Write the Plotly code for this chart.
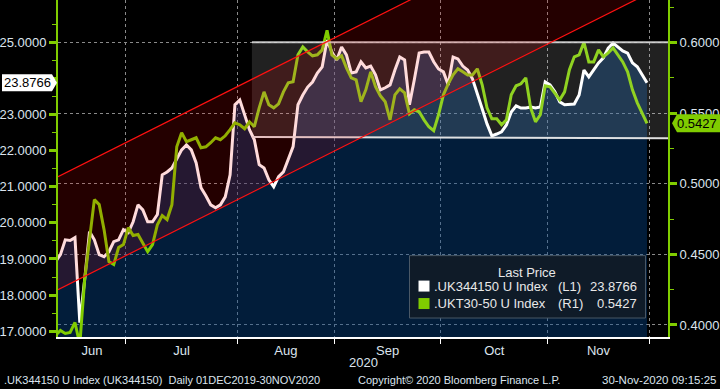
import plotly.graph_objects as go
import pandas as pd

# ---------------- data ----------------
dates = pd.bdate_range("2020-06-10", "2020-11-30", freq="C", holidays=["2020-08-31"])

uk344150 = [
    18.93, 19.12, 19.53, 19.51, 19.59, 17.24, 18.43, 19.76, 19.53, 19.12,
    19.06, 19.20, 19.48, 19.53, 19.81, 19.73, 20.03, 20.50, 20.36, 20.03,
    20.03, 20.23, 21.33, 21.41, 21.52, 21.75, 22.02, 22.16, 22.02, 21.66,
    20.97, 20.75, 20.50, 20.42, 20.50, 20.72, 21.33, 23.27, 23.40, 22.99,
    22.58, 22.30, 21.61, 21.52, 21.19, 21.00, 21.28, 21.41, 21.75, 22.11,
    23.27, 23.54, 23.76, 23.90, 24.15, 24.32, 25.06, 24.73, 24.51, 24.87,
    24.65, 24.15, 24.18, 24.46, 24.29, 24.34, 24.10, 23.68, 23.74, 23.82,
    24.23, 24.59, 24.51, 23.27, 23.96, 24.70, 24.73, 24.73, 24.46, 24.26,
    24.18, 23.82, 24.59, 24.54, 24.34, 24.23, 23.99, 23.60, 23.16, 22.74,
    22.41, 22.46, 22.52, 22.71, 23.07, 23.24, 23.18, 23.18, 23.21, 23.18,
    23.21, 23.90, 23.82, 23.63, 23.35, 23.27, 23.29, 23.29, 23.54, 24.23,
    24.04, 24.23, 24.43, 24.57, 24.84, 24.98, 24.87, 24.76, 24.70, 24.43,
    24.32, 24.10, 23.8766,
]

ukt3050 = [
    0.3926, 0.3961, 0.3940, 0.3947, 0.4018, 0.3862, 0.4322, 0.4604, 0.4887, 0.4852,
    0.4675, 0.4449, 0.4428, 0.4548, 0.4569, 0.4689, 0.4633, 0.4640, 0.4583, 0.4519,
    0.4569, 0.4710, 0.4774, 0.4746, 0.4852, 0.5261, 0.5360, 0.5297, 0.5311, 0.5325,
    0.5254, 0.5261, 0.5290, 0.5325, 0.5311, 0.5339, 0.5382, 0.5431, 0.5417, 0.5389,
    0.5438, 0.5403, 0.5537, 0.5650, 0.5558, 0.5537, 0.5565, 0.5650, 0.5714, 0.5721,
    0.5912, 0.5968, 0.5933, 0.5905, 0.5912, 0.5947, 0.6085, 0.5912, 0.5883, 0.5905,
    0.5820, 0.5749, 0.5735, 0.5580, 0.5664, 0.5792, 0.5686, 0.5622, 0.5580, 0.5452,
    0.5629, 0.5671, 0.5643, 0.5495, 0.5523, 0.5509, 0.5452, 0.5403, 0.5375, 0.5488,
    0.5629, 0.5707, 0.5770, 0.5813, 0.5792, 0.5770, 0.5770, 0.5813, 0.5700, 0.5537,
    0.5459, 0.5459, 0.5417, 0.5452, 0.5629, 0.5693, 0.5707, 0.5749, 0.5537, 0.5438,
    0.5488, 0.5693, 0.5686, 0.5643, 0.5594, 0.5650, 0.5806, 0.5898, 0.5912, 0.6000,
    0.5862, 0.5862, 0.5947, 0.5898, 0.5926, 0.5961, 0.5912, 0.5862, 0.5792, 0.5664,
    0.5572, 0.5495, 0.5427,
]

LAST_L1 = 23.8766
LAST_R1 = 0.5427

month_labels = ["Jun", "Jul", "Aug", "Sep", "Oct", "Nov"]
month_label_pos = ["2020-06-19 12:00", "2020-07-16 00:00", "2020-08-14 12:00",
                   "2020-09-15 12:00", "2020-10-15 12:00", "2020-11-16 00:00"]
month_bounds = ["2020-06-30 12:00", "2020-07-31 12:00", "2020-08-28 12:00",
                "2020-09-30 12:00", "2020-10-30 12:00", "2020-11-30 12:00"]

left_ticks = [17, 18, 19, 20, 21, 22, 23, 24, 25]
left_ticktext = ["17.0000", "18.0000", "19.0000", "20.0000", "21.0000",
                 "22.0000", "23.0000", "", "25.0000"]
left_minor = [16.5, 17.5, 18.5, 19.5, 20.5, 21.5, 22.5, 23.5, 24.5, 25.5]
right_ticks = [0.40, 0.45, 0.50, 0.55, 0.60]
right_ticktext = ["0.4000", "0.4500", "0.5000", "0.5500", "0.6000"]
right_minor = [0.425, 0.475, 0.525, 0.575, 0.625]

X_START, X_END = "2020-06-10 12:00", "2020-12-04 08:00"
# trend channel (left-axis values at the two plot edges)
chan_upper = [21.28, 29.755]
chan_lower = [18.15, 26.625]
# rectangle annotation
rect_x0 = "2020-08-05 12:00"
rect_top = [25.00, 25.00]
rect_bot = [22.38, 22.34]

GREEN = "rgb(128,204,0)"
TXT = "#dce4ee"
FONT = "Liberation Sans"


def pd_(s):
    return s.replace(" ", "_")


fig = go.Figure()
fig.add_trace(go.Scatter(
    x=dates, y=uk344150, mode="lines", yaxis="y",
    line=dict(color="white", width=3),
    fill="tozeroy", fillcolor="rgba(5,72,145,0.40)", hoverinfo="skip"))
fig.add_trace(go.Scatter(
    x=dates, y=ukt3050, mode="lines", yaxis="y2",
    line=dict(color=GREEN, width=3), hoverinfo="skip"))

shapes = []
# rectangle overlay
shapes.append(dict(type="path", xref="x", yref="y", layer="above",
                   path=f"M {pd_(rect_x0)},{rect_top[0]} L {pd_(X_END)},{rect_top[1]} "
                        f"L {pd_(X_END)},{rect_bot[1]} L {pd_(rect_x0)},{rect_bot[0]} Z",
                   fillcolor="rgba(255,255,255,0.13)", line=dict(width=0)))
shapes.append(dict(type="line", xref="x", yref="y", layer="above",
                   x0=rect_x0, x1=X_END, y0=rect_top[0], y1=rect_top[1],
                   line=dict(color="rgba(215,215,215,0.9)", width=2)))
shapes.append(dict(type="line", xref="x", yref="y", layer="above",
                   x0=rect_x0, x1=X_END, y0=rect_bot[0], y1=rect_bot[1],
                   line=dict(color="rgba(235,235,235,0.95)", width=2)))
# channel overlay
shapes.append(dict(type="path", xref="x", yref="y", layer="above",
                   path=f"M {pd_(X_START)},{chan_upper[0]} L {pd_(X_END)},{chan_upper[1]} "
                        f"L {pd_(X_END)},{chan_lower[1]} L {pd_(X_START)},{chan_lower[0]} Z",
                   fillcolor="rgba(255,0,0,0.14)", line=dict(width=0)))
for c in (chan_upper, chan_lower):
    shapes.append(dict(type="line", xref="x", yref="y", layer="above",
                       x0=X_START, x1=X_END, y0=c[0], y1=c[1],
                       line=dict(color="#ff1010", width=1.2)))
# last price tags
shapes.append(dict(type="path", xref="paper", xsizemode="pixel", xanchor=0,
                   yref="y", ysizemode="pixel", yanchor=LAST_L1, layer="above",
                   path="M -56,-8.5 L -6,-8.5 L -1,0 L -6,8.5 L -56,8.5 Z",
                   fillcolor="white", line=dict(width=0)))
shapes.append(dict(type="path", xref="paper", xsizemode="pixel", xanchor=1,
                   yref="y2", ysizemode="pixel", yanchor=LAST_R1, layer="above",
                   path="M 4,0 L 9,-9 L 53,-9 L 53,9 L 9,9 Z",
                   fillcolor=GREEN, line=dict(width=0)))


def px(x):
    return (x - 58) / 610.0


def py(y):
    return (337.5 - y) / 337.5


# legend box
shapes.append(dict(type="rect", xref="paper", yref="paper", layer="above",
                   x0=px(409.5), x1=px(645.5), y0=py(318.5), y1=py(256),
                   fillcolor="#0f1b28", line=dict(color="#4a5866", width=1)))
shapes.append(dict(type="rect", xref="paper", yref="paper", layer="above",
                   x0=px(418.5), x1=px(429.5), y0=py(292), y1=py(281),
                   fillcolor="white", line=dict(width=0)))
shapes.append(dict(type="rect", xref="paper", yref="paper", layer="above",
                   x0=px(418.5), x1=px(429.5), y0=py(309.5), y1=py(298.5),
                   fillcolor=GREEN, line=dict(width=0)))

ann = []
f13 = dict(family=FONT, size=13, color="#e8e8e8")
ann.append(dict(xref="paper", yref="paper", x=px(527), y=py(272.5), text="Last Price",
                showarrow=False, font=f13, xanchor="center", yanchor="middle"))
rows = [(".UK344150 U Index", "(L1)", f"{LAST_L1:.4f}", 286.5),
        (".UKT30-50 U Index", "(R1)", f"{LAST_R1:.4f}", 304)]
for name, tag, val, yy in rows:
    ann.append(dict(xref="paper", yref="paper", x=px(432), y=py(yy), text=name,
                    showarrow=False, font=f13, xanchor="left", yanchor="middle"))
    ann.append(dict(xref="paper", yref="paper", x=px(555.5), y=py(yy), text=tag,
                    showarrow=False, font=f13, xanchor="left", yanchor="middle"))
    ann.append(dict(xref="paper", yref="paper", x=px(639), y=py(yy), text=val,
                    showarrow=False, font=f13, xanchor="right", yanchor="middle"))

ann.append(dict(xref="paper", yref="y", x=px(27.5), y=LAST_L1, text=f"{LAST_L1:.4f}",
                showarrow=False, font=dict(family=FONT, size=13, color="black"),
                xanchor="center", yanchor="middle"))
ann.append(dict(xref="paper", yref="y2", x=px(697), y=LAST_R1, text=f"{LAST_R1:.4f}",
                showarrow=False, font=dict(family=FONT, size=13, color="black"),
                xanchor="center", yanchor="middle"))

ann.append(dict(xref="paper", yref="paper", x=px(363), y=py(363), text="2020",
                showarrow=False, font=dict(family=FONT, size=13, color=TXT),
                xanchor="center", yanchor="middle"))
ffoot = dict(family=FONT, size=11, color=TXT)
ann.append(dict(xref="paper", yref="paper", x=px(2), y=py(380.5),
                text=".UK344150 U Index (UK344150)\u00a0\u00a0Daily 01DEC2019-30NOV2020",
                showarrow=False, font=ffoot, xanchor="left", yanchor="middle"))
ann.append(dict(xref="paper", yref="paper", x=px(356), y=py(380.5),
                text="Copyright\u00a9 2020 Bloomberg Finance L.P.",
                showarrow=False, font=ffoot, xanchor="left", yanchor="middle"))
ann.append(dict(xref="paper", yref="paper", x=px(718), y=py(380.5),
                text="30-Nov-2020 09:15:25",
                showarrow=False, font=dict(family=FONT, size=11.5, color=TXT),
                xanchor="right", yanchor="middle"))

grid = dict(gridcolor="#8a8a8a", griddash="3px,3px", gridwidth=1)

fig.update_layout(
    width=720, height=389,
    margin=dict(l=58, r=52, t=0, b=52, pad=0),
    paper_bgcolor="black", plot_bgcolor="black",
    showlegend=False,
    shapes=shapes, annotations=ann,
    xaxis=dict(
        type="date", range=[X_START, X_END],
        rangebreaks=[dict(bounds=["sat", "mon"]), dict(values=["2020-08-31"])],
        tickmode="array", tickvals=month_label_pos, ticktext=month_labels,
        ticks="",
        tickfont=dict(family=FONT, size=13, color=TXT),
        showgrid=False, zeroline=False,
        showline=True, linecolor="white", linewidth=2,
        minor=dict(tickmode="array", tickvals=month_bounds, ticks="outside",
                   ticklen=5, tickwidth=1, tickcolor="white", showgrid=True, **grid),
    ),
    yaxis=dict(
        range=[16.84, 26.17], tickmode="array", tickvals=left_ticks, ticktext=left_ticktext,
        ticks="outside", ticklen=7, tickwidth=3, tickcolor=GREEN,
        tickfont=dict(family=FONT, size=13, color=TXT),
        showgrid=False, zeroline=False,
        showline=True, linecolor=GREEN, linewidth=2,
        minor=dict(tickmode="array", tickvals=left_minor, ticks="outside",
                   ticklen=4, tickwidth=1, tickcolor=GREEN, showgrid=False),
    ),
    yaxis2=dict(
        overlaying="y", side="right",
        range=[0.3915, 0.6300], tickmode="array", tickvals=right_ticks, ticktext=right_ticktext,
        ticks="outside", ticklen=7, tickwidth=3, tickcolor=GREEN,
        tickfont=dict(family=FONT, size=13, color=TXT),
        showgrid=True, zeroline=False, **grid,
        showline=True, linecolor=GREEN, linewidth=2,
        minor=dict(tickmode="array", tickvals=right_minor, ticks="outside",
                   ticklen=4, tickwidth=1, tickcolor=GREEN, showgrid=False),
    ),
)

fig.write_html(
    "out.html",
    config={"displayModeBar": False},
    post_script="document.body.style.margin='0px';document.body.style.overflow='hidden';",
)
